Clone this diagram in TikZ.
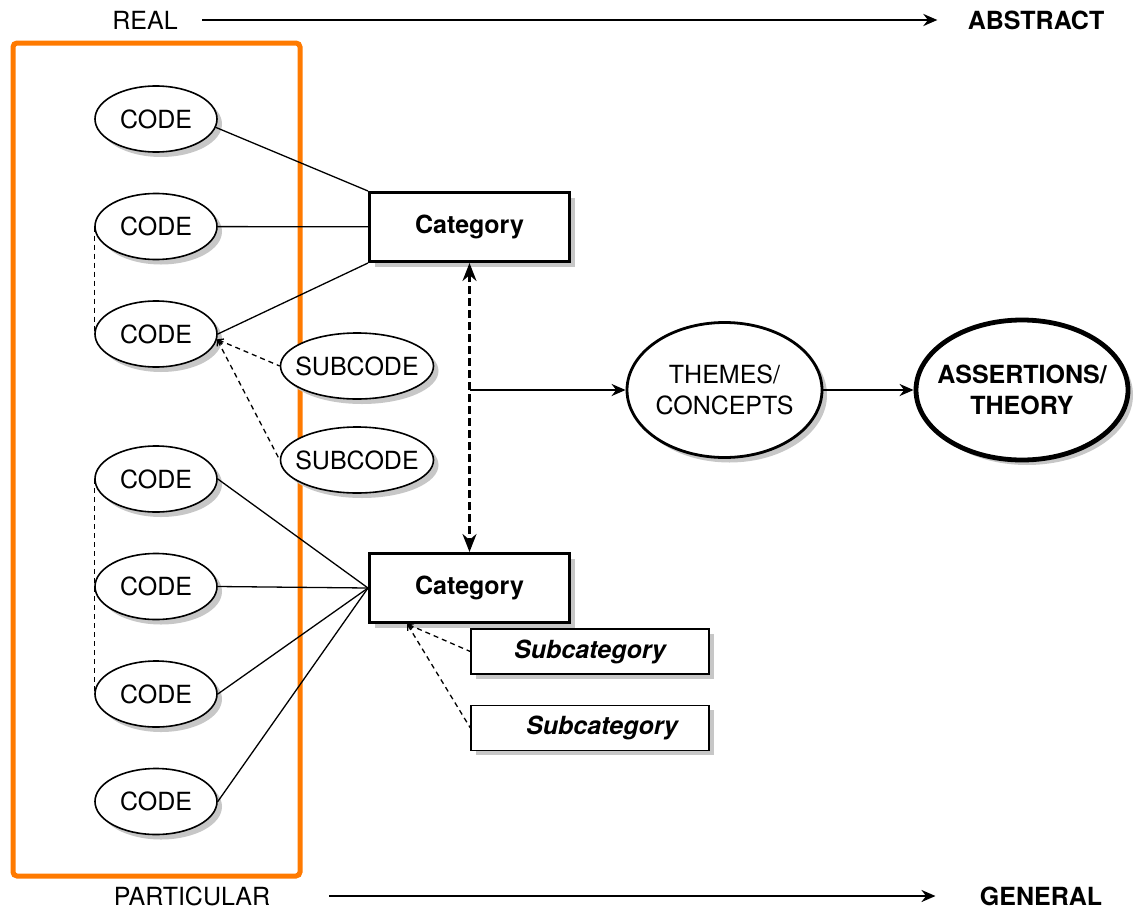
\documentclass[tikz,border=0pt]{standalone}
\usepackage{fontspec}
\setmainfont{TeX Gyre Heros}
\usepackage{xcolor}
\usepackage{tikz}
\usetikzlibrary{positioning,shapes.geometric,shadows,arrows.meta}

\AtBeginDocument{\fontsize{12.5}{15.5}\selectfont}
\definecolor{boxorange}{RGB}{255,122,0}

\tikzset{
  shade/.style={drop shadow={shadow xshift=2.5pt, shadow yshift=-2.5pt, fill=black!22, opacity=1}},
  code/.style={ellipse, draw, fill=white, shade, line width=0.8pt, inner sep=0pt,
    minimum width=61pt, minimum height=33pt},
  subcode/.style={code, inner xsep=-5pt, minimum width=76.5pt},
  category/.style={rectangle, draw, fill=white, shade, line width=1.5pt,
    minimum width=100pt, minimum height=34.5pt, font=\bfseries},
  subcat/.style={rectangle, draw, fill=white, shade, line width=0.7pt,
    minimum width=119pt, minimum height=22.5pt, font=\bfseries\itshape},
  theme/.style={ellipse, draw, fill=white, shade, line width=1.4pt, align=center,
    inner xsep=-1pt, minimum width=97.5pt, minimum height=67.5pt},
  theory/.style={theme, line width=2.4pt, inner xsep=-5pt, font=\bfseries,
    minimum width=106pt, minimum height=70pt},
  link/.style={line width=0.65pt},
  codelink/.style={line width=0.65pt, dash pattern=on 2.5pt off 2pt},
  sublink/.style={codelink, arrows={Straight Barb[length=2.5pt,width=3pt]-}},
  axis/.style={->, line width=1.3pt},
}

\begin{document}
\begin{tikzpicture}[x=0.5pt, y=-0.5pt, >={Stealth[length=7pt,width=6pt]}, node distance=53.75pt]
  \useasboundingbox (0,0) rectangle (1134,910);

  \node[inner sep=0pt] (real) at (145,20) {REAL};
  \node[inner sep=0pt, font=\bfseries] (abstract) at (1036,20) {ABSTRACT};
  \node[inner sep=0pt] (particular) at (192,896) {PARTICULAR};
  \node[inner sep=0pt, font=\bfseries] (general) at (1041,896) {GENERAL};
  \draw[axis, shorten <=12pt, shorten >=15pt] (real) -- (abstract);
  \draw[axis, shorten <=29.5pt, shorten >=22pt] (particular) -- (general);

  \draw[boxorange, line width=2.5pt, rounded corners=2pt] (13,43) rectangle (300,876);

  \node[code] (code1) at (156,119) {CODE};
  \node[code, below of=code1] (code2) {CODE};
  \node[code, below of=code2] (code3) {CODE};
  \node[code] (code4) at (156,479) {CODE};
  \node[code, below of=code4] (code5) {CODE};
  \node[code, below of=code5] (code6) {CODE};
  \node[code, below of=code6] (code7) {CODE};

  \node[subcode] (sub1) at (357,366) {SUBCODE};
  \node[subcode] (sub2) at (357,460) {SUBCODE};

  \node[category] (cat1) at (469.5,227) {Category};
  \node[category, below=144.5pt of cat1] (cat2) {Category};
  \node[subcat] (subcat1) at (590,651.5) {Subcategory};
  \node[subcat, below=15pt of subcat1] (subcat2) {\hspace*{12pt}Subcategory};

  \node[theme] (themes) at (724.5,390) {THEMES/\\CONCEPTS};
  \node[theory] (theory) at (1022,390) {ASSERTIONS/\\THEORY};
  \coordinate (fork) at (469.5,390);

  \draw[link] (code1.-8) -- (cat1.north west);
  \draw[link] (code2) -- (cat1);
  \draw[link] (code3.east) -- (cat1.south west);
  \draw[sublink] (code3.-5) -- (sub1.west);
  \draw[sublink] (code3.-5) -- (sub2.west);
  \draw[codelink] (code2.west) -- (code3.west);

  \draw[link] (code4.east) -- (cat2.west);
  \draw[link] (code5.east) -- (cat2.west);
  \draw[link] (code6.east) -- (cat2.west);
  \draw[link] (code7.east) -- (cat2.west);
  \draw[codelink] (code4.west) -- (code6.west);

  \draw[sublink] (cat2.210) -- (subcat1.west);
  \draw[sublink] (cat2.210) -- (subcat2.west);

  \draw[<->, line width=1.3pt, dash pattern=on 4pt off 2pt, >={Stealth[length=9pt,width=7pt]}] (cat1) -- (cat2);
  \draw[->, line width=1.1pt] (fork) -- (themes);
  \draw[->, line width=1.1pt] (themes) -- (theory);
\end{tikzpicture}
\end{document}
